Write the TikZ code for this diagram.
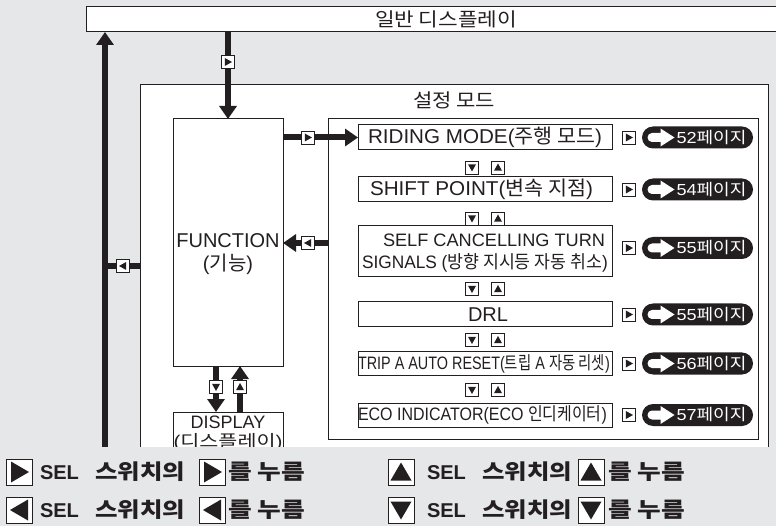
\documentclass[tikz,border=0pt]{standalone}
\usepackage{graphicx}
\usepackage{fontspec}
\setmainfont{Liberation Sans}
\newfontfamily\krf{Noto Sans CJK KR}
\newfontfamily\selfont{Liberation Sans Bold}
\usetikzlibrary{arrows.meta}
\definecolor{bggray}{HTML}{E6E7E9}
\definecolor{ln}{HTML}{231F20}
\newcommand\K[1]{{\krf #1}}
\newcommand\fs[1]{\fontsize{#1}{#1}\selectfont}
\newsavebox\fitbx
\newcommand\fitw[2]{\sbox\fitbx{#2}\pgfmathsetmacro\fitr{#1/\wd\fitbx}\scalebox{\fitr}[1]{\usebox\fitbx}}
\newcommand\presstext{\fitw{77}{\fontsize{21}{24}\selectfont\bfseries\K{를 누름}}}
\tikzset{
  box/.style={draw=ln, line width=1pt, fill=white},
  fat/.style={draw=ln, line width=6pt, -{Triangle[width=17pt,length=13pt]}},
  fatline/.style={draw=ln, line width=6pt},
  indbox/.style={draw=ln, fill=white, line width=0.9pt, minimum size=13pt},
  legbox/.style={draw=ln, fill=white, line width=0.9pt, minimum size=26pt},
  pill/.style={fill=ln, rounded corners=11pt, minimum width=111pt, minimum height=22pt},
  sel/.style={anchor=base west, font=\selfont\fontsize{20}{24}\selectfont},
}
\newcommand\ind[3]{\node[indbox] (#1) at (#2) {};
  \fill[ln, shift={(#1.center)}, rotate=#3] (4,0) -- (-3.2,4) -- (-3.2,-4) -- cycle;}
\newcommand\legind[3]{\node[legbox] (#1) at (#2) {};
  \fill[ln, shift={(#1.center)}, rotate=#3] (9.5,0) -- (-8.5,10.5) -- (-8.5,-10.5) -- cycle;}
\newcommand\pg[3]{\node[pill] (#1) at (#2) {};
  \fill[white, shift={(#1.center)}] (-45.5,-4.5) -- (-37,-4.5) -- (-37,-9) -- (-23,0) -- (-37,9) -- (-37,4.5) -- (-45.5,4.5) arc (90:270:4.5) -- cycle;
  \node[text=white, anchor=west] (#1t) at ([xshift=-21pt]#1.center) {\fitw{70}{\fs{16}#3}};}
% legend row: name, y, left x of text block
\newcommand\legrow[3]{%
  \node[sel] (#1s) at (#3,#2+7.2) {SEL};
  \node[anchor=west] (#1k) at (#3+55,#2) {\fitw{90}{\fontsize{21}{24}\selectfont\bfseries\K{스위치의}}};}
\begin{document}
\begin{tikzpicture}[x=1pt,y=-1pt, every node/.style={text=ln, inner sep=0pt, outer sep=0pt}]
\useasboundingbox (0,0) rectangle (776,526);
\clip (0,0) rectangle (776,526);
\fill[bggray] (0,0) rectangle (776,526);

% top box
\node[box, minimum width=720pt, minimum height=25pt] (top) at (446,19.5) {\fitw{142}{\fs{19}\K{일반 디스플레이}}};

% settings box
\node[box, minimum width=628pt, minimum height=375pt] (set) at (454,272.5) {};
\node (settxt) at (454,100) {\fitw{82}{\fs{19}\K{설정 모드}}};
\node[box, minimum width=430pt, minimum height=320pt] (inner) at (543,279) {};

% function & display
\node[box, minimum width=110pt, minimum height=247pt] (func) at (228,242.5) {};
\node[align=center, font=\fontsize{20}{23}\selectfont] (functxt) at (228,254.5) {FUNCTION\\(\K{기능})};
\node[box, minimum width=110pt, minimum height=58pt] (disp) at (228,441) {};
\node (disptxt1) at (228,422) {\fs{18}DISPLAY};
\node (disptxt2) at (228,442) {\fitw{109}{\fs{17}(\K{디스플레이})}};

% menu items
\node[box, minimum width=254pt, minimum height=25pt] (r1) at (485,137.5) {};
\node (r1t) at (485,137.5) {\fitw{234}{\fs{20}RIDING MODE(\K{주행 모드})}};
\node[box, minimum width=254pt, minimum height=25pt] (r2) at (485,189.5) {};
\node (r2t) at (481.5,189.5) {\fitw{223}{\fs{20}SHIFT POINT(\K{변속 지점})}};
\node[box, minimum width=254pt, minimum height=51pt] (r3) at (485,251.5) {};
\node (r3a) at (494,240) {\fitw{222}{\fs{18}SELF CANCELLING TURN}};
\node (r3b) at (485,263) {\fitw{246}{\fs{18}SIGNALS (\K{방향 지시등 자동 취소})}};
\node[box, minimum width=254pt, minimum height=25pt] (r4) at (485,314.5) {};
\node (r4t) at (488,314.5) {\fs{20}DRL};
\node[box, minimum width=254pt, minimum height=23pt] (r5) at (485,363.5) {};
\node (r5t) at (484,363.5) {\fitw{252}{\fs{18}TRIP A AUTO RESET(\K{트립} A \K{자동 리셋})}};
\node[box, minimum width=254pt, minimum height=24pt] (r6) at (485,415) {};
\node (r6t) at (482.5,415) {\fitw{249}{\fs{18}ECO INDICATOR(ECO \K{인디케이터})}};

% up/down indicators between items
\ind{d1}{472,167.5}{-90}  \ind{u1}{498,167.5}{90}
\ind{d2}{472,218.5}{-90}  \ind{u2}{498,218.5}{90}
\ind{d3}{472,289}{-90}    \ind{u3}{498,289}{90}
\ind{d4}{472,340}{-90}    \ind{u4}{498,340}{90}
\ind{d5}{472,390}{-90}    \ind{u5}{498,390}{90}

% page links
\ind{p1i}{629,137.5}{0} \pg{p1}{697.5,137.5}{52\K{페이지}}
\ind{p2i}{629,189.5}{0} \pg{p2}{697.5,189.5}{54\K{페이지}}
\ind{p3i}{629,248}{0}   \pg{p3}{697.5,248}{55\K{페이지}}
\ind{p4i}{629,314.5}{0} \pg{p4}{697.5,314.5}{55\K{페이지}}
\ind{p5i}{629,363.5}{0} \pg{p5}{697.5,363.5}{56\K{페이지}}
\ind{p6i}{629,415}{0}   \pg{p6}{697.5,415}{57\K{페이지}}

% connectors
\coordinate (lbot) at (105,448);
\draw[fat] (lbot) -- (lbot |- top.south);
\coordinate (lj) at (140,266);
\draw[fatline] (lj) -- (lbot |- lj);
\ind{li}{123,266}{180}
\draw[fat] (top.south -| func.north) -- (func.north);
\ind{ti}{228,62}{0}
\draw[fat] (func.east |- r1.west) -- (r1.west);
\ind{fi}{308,137.5}{0}
\coordinate (bk) at (328,243);
\draw[fat] (bk) -- (func.east |- bk);
\ind{bi}{308,243}{180}
\draw[fat] ([xshift=-12pt]func.south) -- ([xshift=-12pt]func.south |- disp.north);
\draw[fat] ([xshift=12pt]disp.north) -- ([xshift=12pt]disp.north |- func.south);
\ind{ddi}{216,387}{-90}
\ind{dui}{240,387}{90}

% legend strip
\fill[bggray] (0,447) rectangle (776,526);

% legend
\legind{la1}{19.5,472}{0}
\legrow{lt1}{472}{40}
\legind{la2}{212.5,472}{0}
\node[anchor=west] (lt2) at (228,472) {\presstext};
\legind{lb1}{19.5,510}{180}
\legrow{lt3}{510}{40}
\legind{lb2}{212.5,510}{180}
\node[anchor=west] (lt4) at (228,510) {\presstext};
\legind{ra1}{401,472}{90}
\legrow{rt1}{472}{427}
\legind{ra2}{591,472}{90}
\node[anchor=west] (rt2) at (608,472) {\presstext};
\legind{rb1}{401,510}{-90}
\legrow{rt3}{510}{427}
\legind{rb2}{591,510}{-90}
\node[anchor=west] (rt4) at (608,510) {\presstext};
\end{tikzpicture}
\end{document}
